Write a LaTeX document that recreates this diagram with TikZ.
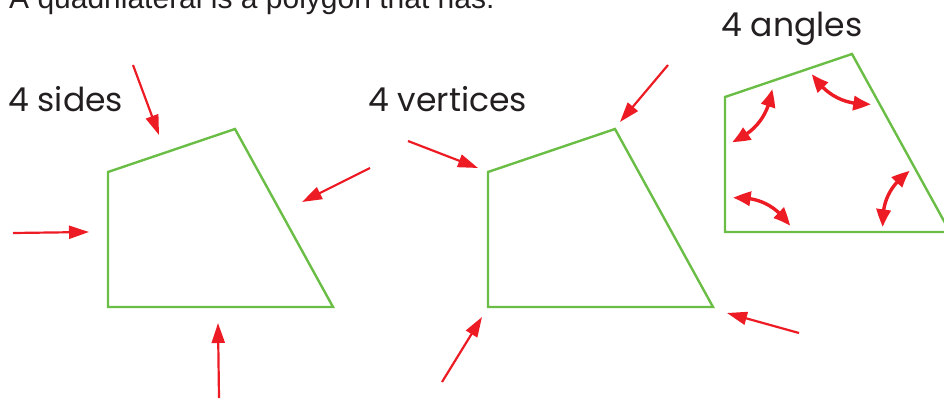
\documentclass[tikz,border=0pt]{standalone}
\usepackage{fontspec}
\setmainfont{Poppins}
\newfontfamily\leadfont{Liberation Sans}
\usepackage{xcolor}
\usetikzlibrary{arrows.meta,calc,bending}
\definecolor{ink}{HTML}{231F20}
\definecolor{leaf}{HTML}{6ABD45}
\definecolor{alarm}{HTML}{ED1C24}

\begin{document}
\begin{tikzpicture}[x=1pt, y=-1pt, >= {Triangle[length=20pt, width=13pt]}]
  \useasboundingbox (0,0) rectangle (944,401);
  \tikzset{
    edge/.style={line width=2.4pt, color=leaf},
    pointer/.style={line width=2.2pt, color=alarm, ->},
    turn/.style={line width=3.4pt, color=alarm, {Triangle[length=18pt, width=14pt, bend]}-{Triangle[length=18pt, width=14pt, bend]}},
    label/.style={anchor=base west, inner sep=0pt, font=\color{ink}\fontsize{33}{36}\selectfont}
  }
  \def\qshape{(108,172) -- (235,129) -- (333,307) -- (108,307) -- cycle}
  \coordinate (sides) at (0,0);
  \coordinate (vertices) at (380,0);
  \coordinate (angles) at (617,-75);

  \node[anchor=base west, inner sep=0pt, font=\leadfont\color{ink}\fontsize{30}{34}\selectfont] (lead) at (9,9) {A quadrilateral is a polygon that has:};

  \node[label] (sidestext) at (8,111.5) {4 sides};
  \draw[edge, shift={(sides)}] \qshape;
  \draw[pointer] ($(sides)+(133,65)$) -- ($(sides)+(159,135)$);
  \draw[pointer] ($(sides)+(370,168)$) -- ($(sides)+(302,202)$);
  \draw[pointer] ($(sides)+(13,233)$) -- ($(sides)+(89,232)$);
  \draw[pointer] ($(sides)+(219,398)$) -- ($(sides)+(218,323)$);

  \node[label] (verticestext) at (368,111.5) {4 vertices};
  \draw[edge, shift={(vertices)}] \qshape;
  \draw[pointer] ($(vertices)+(288,65)$) -- ($(vertices)+(240,122)$);
  \draw[pointer] ($(vertices)+(28,141)$) -- ($(vertices)+(98,168)$);
  \draw[pointer] ($(vertices)+(62,382)$) -- ($(vertices)+(102,317)$);
  \draw[pointer] ($(vertices)+(419,333)$) -- ($(vertices)+(347,313)$);

  \node[label] (anglestext) at (721,37) {4 angles};
  \draw[edge, shift={(angles)}] \qshape;
  \draw[turn] ($(angles)+(155,164)$) to[bend left=30] ($(angles)+(115,217)$);
  \draw[turn] ($(angles)+(195,149)$) to[bend right=30] ($(angles)+(254,179)$);
  \draw[turn] ($(angles)+(116,273)$) to[bend left=30] ($(angles)+(173,301)$);
  \draw[turn] ($(angles)+(293,246)$) to[bend right=30] ($(angles)+(266,302)$);
\end{tikzpicture}
\end{document}
